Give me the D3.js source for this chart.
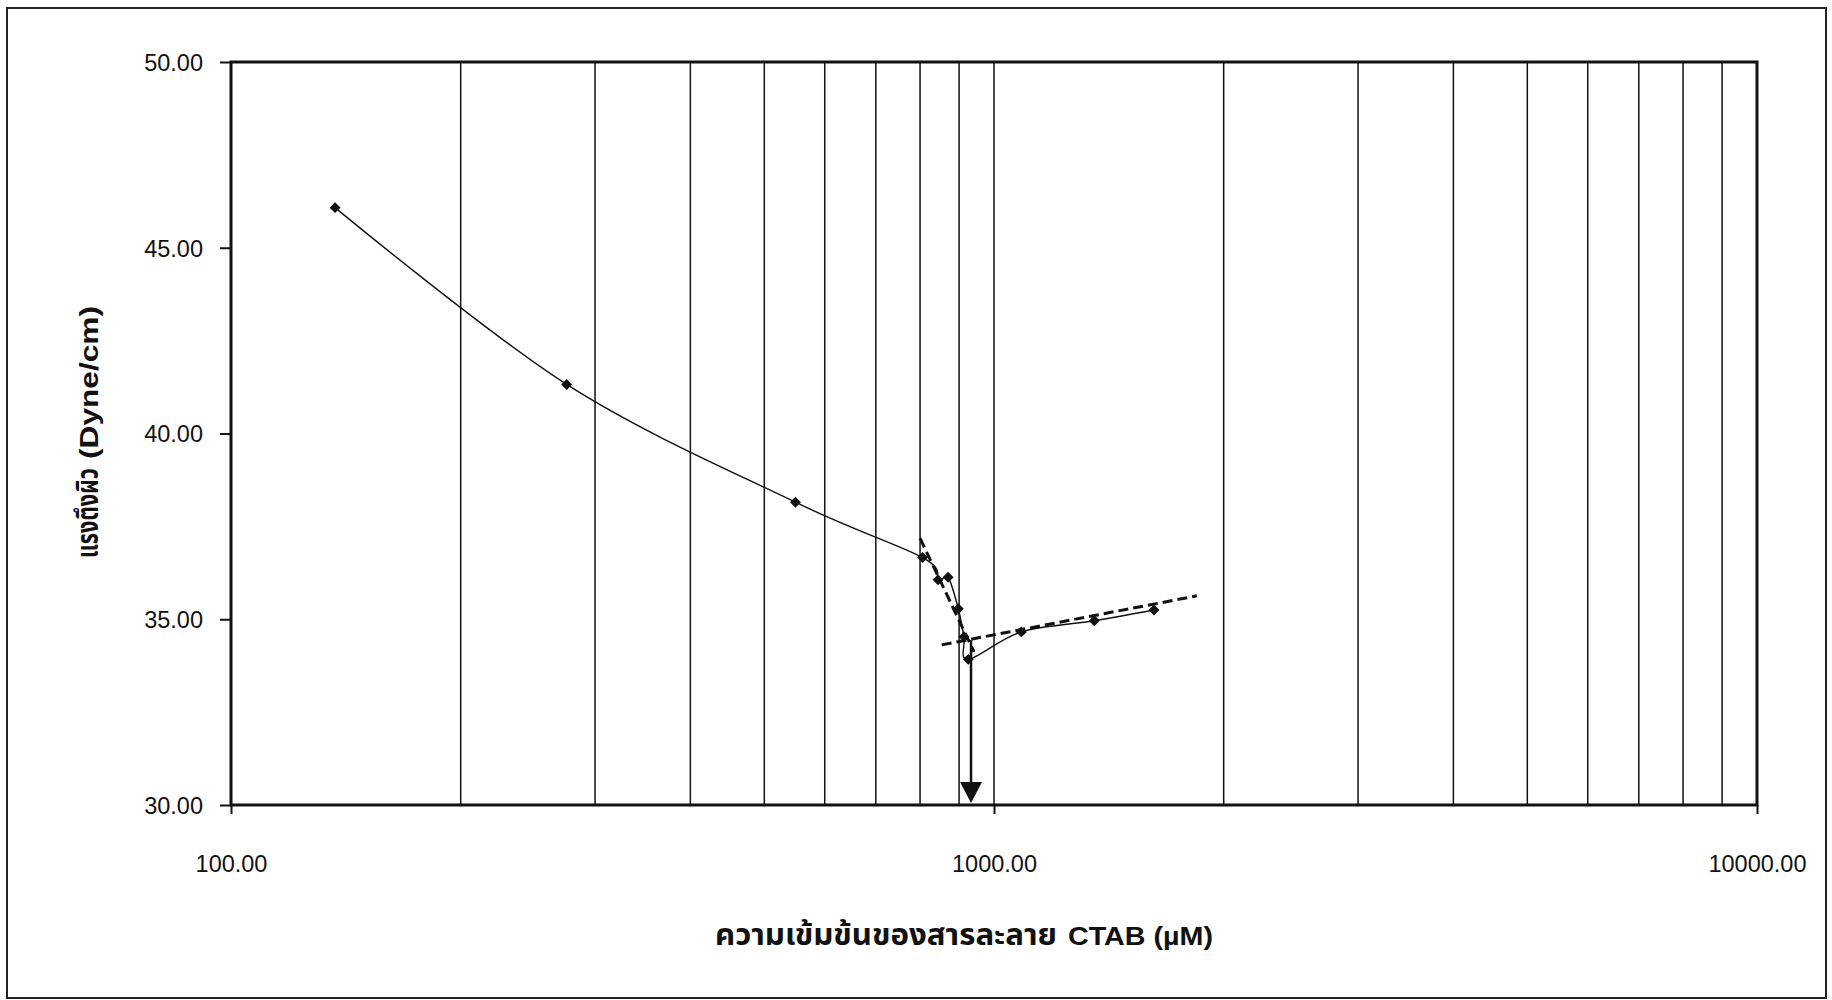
<!DOCTYPE html>
<html>
<head>
<meta charset="utf-8">
<script src="https://cdn.jsdelivr.net/npm/d3@7"></script>
<style>
  html, body { margin: 0; padding: 0; background: #fff; }
  svg { display: block; font-family: "Liberation Sans", Arial, "Noto Sans Thai", "DejaVu Sans", sans-serif; }
</style>
</head>
<body>
<svg id="chart" width="1832" height="1000"></svg>
<script>
// CTAB concentration (µM) and measured surface tension (dyne/cm)
const concentration = [136.9, 275.4, 549.3, 806.2, 844.6, 870.7, 897.9, 913.4, 925.3, 1085.9, 1353.6, 1620.6];
const surfaceTension = [46.08, 41.32, 38.15, 36.66, 36.06, 36.13, 35.28, 34.53, 33.92, 34.66, 34.96, 35.25];

// Two fitted trend segments whose intersection gives the CMC
const steepFitX = [800, 941.5];
const steepFitY = [37.18, 34.12];
const flatFitX = [854, 1844];
const flatFitY = [34.31, 35.63];

// CMC marker
const cmcConcentration = [933];
const cmcTension = [34.44, 30.0];

// Axes
const xDomain = [100, 10000];
const xTickValues = [100, 1000, 10000];
const xGridValues = [200, 300, 400, 500, 600, 700, 800, 900, 1000, 2000, 3000, 4000, 5000, 6000, 7000, 8000, 9000];
const yDomain = [30, 50];
const yTickValues = [30, 35, 40, 45, 50];

// Axis titles: Thai part and Latin part
const xTitleThai = "ความเข้มข้นของสารละลาย";
const xTitleLatin = "CTAB (µM)";
const yTitleThai = "แรงตึงผิว";
const yTitleLatin = "(Dyne/cm)";

const svg = d3.select("#chart");
const plot = { left: 231, right: 1757, top: 62, bottom: 805 };

const x = d3.scaleLog().domain(xDomain).range([plot.left, plot.right]);
const y = d3.scaleLinear().domain(yDomain).range([plot.bottom, plot.top]);

// Outer chart frame
svg.append("rect")
  .attr("x", 7).attr("y", 8).attr("width", 1819).attr("height", 990)
  .attr("fill", "none").attr("stroke", "#222").attr("stroke-width", 2);

// Vertical grid lines at minor log positions
svg.append("g").selectAll("line").data(xGridValues).join("line")
  .attr("x1", d => x(d)).attr("x2", d => x(d))
  .attr("y1", plot.top).attr("y2", plot.bottom)
  .attr("stroke", "#111").attr("stroke-width", 1.5);

// X axis: major ticks outside
const xAxis = d3.axisBottom(x).tickValues(xTickValues).tickSize(9).tickFormat(d3.format(".2f"));
const gx = svg.append("g").attr("transform", `translate(0,${plot.bottom})`).call(xAxis);
gx.select(".domain").remove();
gx.selectAll(".tick line").attr("stroke", "#111").attr("stroke-width", 2);
gx.selectAll(".tick text")
  .attr("y", 67).attr("dy", "0")
  .attr("font-size", 23.5).attr("fill", "#111")
  .attr("font-family", "'Liberation Sans', Arial, sans-serif");

// Y axis
const yAxis = d3.axisLeft(y).tickValues(yTickValues).tickSize(11).tickFormat(d3.format(".2f"));
const gy = svg.append("g").attr("transform", `translate(${plot.left},0)`).call(yAxis);
gy.select(".domain").remove();
gy.selectAll(".tick line").attr("stroke", "#111").attr("stroke-width", 2);
gy.selectAll(".tick text")
  .attr("x", -28).attr("dy", "0.36em")
  .attr("font-size", 23.5).attr("fill", "#111")
  .attr("font-family", "'Liberation Sans', Arial, sans-serif");

// Plot frame
svg.append("rect")
  .attr("x", plot.left).attr("y", plot.top)
  .attr("width", plot.right - plot.left).attr("height", plot.bottom - plot.top)
  .attr("fill", "none").attr("stroke", "#111").attr("stroke-width", 3);

// Measured series, smoothed line
const pts = concentration.map((c, i) => [c, surfaceTension[i]]);
const smooth = d3.line().x(d => x(d[0])).y(d => y(d[1])).curve(d3.curveCatmullRom.alpha(0));
svg.append("path").datum(pts)
  .attr("d", smooth)
  .attr("fill", "none").attr("stroke", "#111").attr("stroke-width", 1.4);

// Fitted dashed segments
const straight = d3.line().x(d => x(d[0])).y(d => y(d[1]));
[[steepFitX, steepFitY], [flatFitX, flatFitY]].forEach(([fx, fy]) => {
  svg.append("path").datum(fx.map((v, i) => [v, fy[i]]))
    .attr("d", straight)
    .attr("fill", "none").attr("stroke", "#111")
    .attr("stroke-width", 3).attr("stroke-dasharray", "10,5");
});

// Diamond markers
svg.append("g").selectAll("path").data(pts).join("path")
  .attr("d", d3.symbol().type(d3.symbolSquare).size(60))
  .attr("transform", d => `translate(${x(d[0])},${y(d[1])}) rotate(45)`)
  .attr("fill", "#111");

// CMC arrow
const ax = x(cmcConcentration[0]);
const headTop = y(cmcTension[1]) - 23;
svg.append("line")
  .attr("x1", ax).attr("x2", ax)
  .attr("y1", y(cmcTension[0])).attr("y2", headTop + 2)
  .attr("stroke", "#111").attr("stroke-width", 2.5);
svg.append("path")
  .attr("d", `M${ax - 11},${headTop} L${ax + 11},${headTop} L${ax},${y(cmcTension[1]) - 2} Z`)
  .attr("fill", "#111");

// X axis title
const xt = svg.append("g").attr("fill", "#111").attr("font-weight", "bold");
xt.append("text")
  .attr("x", 715).attr("y", 945)
  .attr("font-size", 30)
  .attr("textLength", 342).attr("lengthAdjust", "spacingAndGlyphs")
  .text(xTitleThai);
xt.append("text")
  .attr("x", 1068).attr("y", 945)
  .attr("font-size", 26)
  .attr("textLength", 145).attr("lengthAdjust", "spacingAndGlyphs")
  .text(xTitleLatin);

// Y axis title (rotated, reads bottom to top)
const yt = svg.append("g")
  .attr("transform", "translate(98,558) rotate(-90)")
  .attr("fill", "#111").attr("font-weight", "bold");
yt.append("text")
  .attr("x", 0).attr("y", 0)
  .attr("font-size", 30)
  .attr("textLength", 90).attr("lengthAdjust", "spacingAndGlyphs")
  .text(yTitleThai);
yt.append("text")
  .attr("x", 99).attr("y", 0)
  .attr("font-size", 25)
  .attr("textLength", 153).attr("lengthAdjust", "spacingAndGlyphs")
  .text(yTitleLatin);
</script>
</body>
</html>
